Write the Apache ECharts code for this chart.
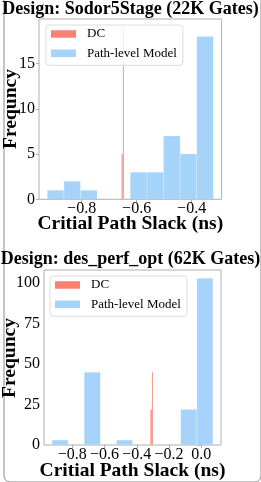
<!DOCTYPE html>
<html>
<head>
<meta charset="utf-8">
<script src="https://cdn.jsdelivr.net/npm/echarts@6/dist/echarts.min.js"></script>
<style>
html,body{margin:0;padding:0;background:#fff;}
#chart{width:261px;height:482px;}
</style>
</head>
<body>
<div id="chart"></div>
<script>
// ---- Data ----
var titles = ['Design: Sodor5Stage (22K Gates)', 'Design: des_perf_opt (62K Gates)'];
var seriesNames = ['DC', 'Path-level Model'];
var xAxisName = 'Critial Path Slack (ns)';
var yAxisName = 'Frequncy';

// Top panel (Sodor5Stage)
var topModelEdges = [-0.925, -0.8646, -0.8042, -0.7438, -0.6834, -0.623, -0.5626, -0.5022, -0.4418, -0.3814, -0.321];
var topModelCounts = [1, 2, 1, 0, 0, 3, 3, 7, 5, 18];
var topDCEdges = [-0.655, -0.650, -0.648];
var topDCCounts = [5, 19];
var topXTicks = [-0.8, -0.6, -0.4];
var topYTicks = [0, 5, 10, 15];
var topXRange = [-0.955, -0.291];
var topYMax = 19.95;

// Bottom panel (des_perf_opt)
var botModelEdges = [-0.925, -0.8253, -0.7256, -0.6259, -0.5262, -0.4265, -0.3268, -0.2271, -0.1274, -0.0277, 0.072];
var botModelCounts = [3, 0, 45, 0, 3, 0, 0, 0, 22, 103];
var botDCEdges = [-0.316, -0.306, -0.3015];
var botDCCounts = [22, 45];
var botXTicks = [-0.8, -0.6, -0.4, -0.2, 0.0];
var botYTicks = [0, 25, 50, 75, 100];
var botXRange = [-0.975, 0.122];
var botYMax = 108.15;

// ---- Build ----
var FONT = "'Liberation Serif', 'Times New Roman', serif";
var BLUE = '#a6d3fa';
var RED = '#fa8072';
var FRAME = '#b0b0b0';
var TICK_FS = 16;
var NAME_FS = 19.5;

function toHist(edges, counts) {
  var out = [];
  for (var i = 0; i < counts.length; i++) {
    out.push([edges[i], edges[i + 1], counts[i]]);
  }
  return out;
}

function renderBar(params, api) {
  var x0 = api.value(0), x1 = api.value(1), c = api.value(2);
  if (!c) return null;
  var p0 = api.coord([x0, 0]);
  var p1 = api.coord([x1, c]);
  var w = Math.max(p1[0] - p0[0], 1);
  return {
    type: 'rect',
    shape: { x: p0[0], y: p1[1], width: w, height: p0[1] - p1[1] },
    style: { fill: api.visual('color'), stroke: 'rgba(255,255,255,0.35)', lineWidth: 0.6 }
  };
}

function fmtMinus(v) {
  var s = Math.abs(v) < 1e-9 ? '0.0' : v.toFixed(1);
  return s.replace('-', '\u2212');
}

function xAxis(gridIndex, range, ticks, gap) {
  return {
    type: 'value', gridIndex: gridIndex, min: range[0], max: range[1],
    splitLine: { show: false },
    axisLine: { show: false },
    axisTick: { show: true, length: 3, customValues: ticks, lineStyle: { color: FRAME } },
    axisLabel: { customValues: ticks, formatter: fmtMinus, margin: 1.5, showMinLabel: true, showMaxLabel: true,
      hideOverlap: false, color: '#000', fontFamily: FONT, fontSize: TICK_FS },
    name: xAxisName, nameLocation: 'middle', nameGap: gap, nameMoveOverlap: false,
    nameTextStyle: { fontFamily: FONT, fontSize: NAME_FS, fontWeight: 'bold', color: '#000' }
  };
}

function yAxis(gridIndex, max, ticks) {
  return {
    type: 'value', gridIndex: gridIndex, min: 0, max: max,
    splitLine: { show: false },
    axisLine: { show: false },
    axisTick: { show: true, length: 3, customValues: ticks, lineStyle: { color: FRAME } },
    axisLabel: { customValues: ticks, margin: 4, showMinLabel: true, showMaxLabel: true,
      color: '#000', fontFamily: FONT, fontSize: TICK_FS }
  };
}

function yName(x, y) {
  return {
    type: 'text', x: x, y: y, rotation: Math.PI / 2, silent: true, z: 10,
    style: {
      text: yAxisName, fill: '#000',
      font: 'bold ' + NAME_FS + 'px ' + FONT,
      align: 'center', verticalAlign: 'middle'
    }
  };
}

function legend(left, top) {
  return {
    data: seriesNames, orient: 'vertical', left: left, top: top,
    icon: 'rect', itemWidth: 25, itemHeight: 7.5, itemGap: 5.3,
    padding: [2, 6, 5, 5],
    backgroundColor: 'rgba(255,255,255,0.8)', borderColor: '#dddddd', borderWidth: 1, borderRadius: 3,
    selectedMode: false,
    textStyle: { fontFamily: FONT, fontSize: 13, color: '#000', lineHeight: 14, padding: [0, 0, 0, 6] }
  };
}

var chart = echarts.init(document.getElementById('chart'), null, { renderer: 'canvas' });
var option = {
  animation: false,
  backgroundColor: '#fff',
  title: [
    { text: titles[0], left: 'center', top: 0, padding: 0,
      textStyle: { fontFamily: FONT, fontSize: 18, fontWeight: 'bold', color: '#000' } },
    { text: titles[1], left: 'center', top: 250, padding: 0,
      textStyle: { fontFamily: FONT, fontSize: 18, fontWeight: 'bold', color: '#000' } }
  ],
  graphic: [
    {
      type: 'rect', left: 1.5, top: -10, silent: true, z: -10,
      shape: { x: 0, y: 0, width: 257, height: 489.5, r: 6 },
      style: { fill: 'none', stroke: '#8a8a8a', lineWidth: 1 }
    },
    yName(11, 109),
    yName(9.5, 358)
  ],
  legend: [legend(46, 25), legend(50, 276)],
  grid: [
    { left: 39, top: 19, width: 182.6, height: 180.3, show: true, borderColor: FRAME, borderWidth: 1, backgroundColor: 'transparent' },
    { left: 44, top: 270, width: 177, height: 176, show: true, borderColor: FRAME, borderWidth: 1, backgroundColor: 'transparent' }
  ],
  xAxis: [xAxis(0, topXRange, topXTicks, 14.5), xAxis(1, botXRange, botXTicks, 16)],
  yAxis: [yAxis(0, topYMax, topYTicks), yAxis(1, botYMax, botYTicks)],
  series: [
    { type: 'custom', name: seriesNames[1], xAxisIndex: 0, yAxisIndex: 0, renderItem: renderBar,
      itemStyle: { color: BLUE }, encode: { x: [0, 1], y: 2 }, data: toHist(topModelEdges, topModelCounts), clip: true },
    { type: 'custom', name: seriesNames[0], xAxisIndex: 0, yAxisIndex: 0, renderItem: renderBar,
      itemStyle: { color: RED }, encode: { x: [0, 1], y: 2 }, data: toHist(topDCEdges, topDCCounts), clip: true },
    { type: 'custom', name: seriesNames[1], xAxisIndex: 1, yAxisIndex: 1, renderItem: renderBar,
      itemStyle: { color: BLUE }, encode: { x: [0, 1], y: 2 }, data: toHist(botModelEdges, botModelCounts), clip: true },
    { type: 'custom', name: seriesNames[0], xAxisIndex: 1, yAxisIndex: 1, renderItem: renderBar,
      itemStyle: { color: RED }, encode: { x: [0, 1], y: 2 }, data: toHist(botDCEdges, botDCCounts), clip: true }
  ]
};
chart.setOption(option);
</script>
</body>
</html>
